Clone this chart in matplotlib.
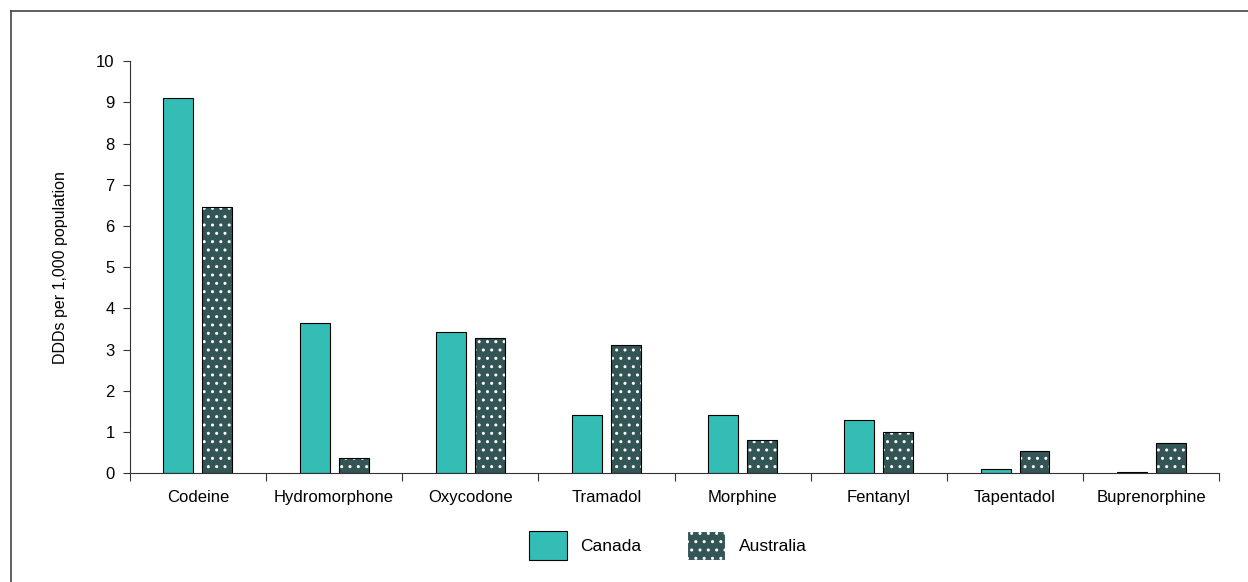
import matplotlib.pyplot as plt
import numpy as np
from matplotlib.patches import Patch
from matplotlib.lines import Line2D

plt.rcParams['font.family'] = ['Liberation Sans', 'DejaVu Sans']
plt.rcParams['hatch.linewidth'] = 1.0

drugs = ['Codeine', 'Hydromorphone', 'Oxycodone', 'Tramadol', 'Morphine',
         'Fentanyl', 'Tapentadol', 'Buprenorphine']
canada = [9.1, 3.65, 3.42, 1.4, 1.4, 1.3, 0.1, 0.04]
australia = [6.45, 0.37, 3.28, 3.12, 0.8, 1.0, 0.55, 0.72]

teal = '#33BDB5'
slate = '#335555'

fig = plt.figure(figsize=(12.48, 5.82), dpi=100)
ax = fig.add_axes([0.104, 0.187, 0.873, 0.708])

x = np.arange(len(drugs))
w = 0.22
off = 0.143
ax.bar(x - off, canada, w, color=teal, edgecolor='black', linewidth=0.8, zorder=2)
# dotted bars: white dot hatch first, then black outline on top
ax.bar(x + off, australia, w, color=slate, edgecolor='white', hatch='..',
       linewidth=0, zorder=2)
ax.bar(x + off, australia, w, color='none', edgecolor='black', linewidth=0.8, zorder=3)

ax.set_xlim(-0.5, len(drugs) - 0.5)
ax.set_ylim(0, 10)
ax.set_yticks(range(0, 11))
ax.set_xticks(np.arange(-0.5, len(drugs), 1.0))
ax.set_xticklabels([])
ax.set_xticks(x, minor=True)
ax.set_xticklabels(drugs, minor=True, fontsize=12)
ax.tick_params(axis='x', which='minor', length=0, pad=12)
ax.tick_params(axis='x', which='major', length=6, direction='out', color='#333333')
ax.tick_params(axis='y', length=5, labelsize=12, color='#333333', pad=6)
ax.spines['top'].set_visible(False)
ax.spines['right'].set_visible(False)
ax.spines['left'].set_color('#333333')
ax.spines['bottom'].set_color('#333333')
ax.set_ylabel('DDDs per 1,000 population', fontsize=11.5, labelpad=20)

handles = [Patch(facecolor=teal, edgecolor='black', linewidth=0.8, label='Canada'),
           Patch(facecolor=slate, edgecolor='white', hatch='..', linewidth=0.8,
                 label='Australia')]
fig.legend(handles=handles, loc='center', bbox_to_anchor=(0.535, 0.063), ncol=2,
           frameon=False, fontsize=12.5, handlelength=2.2, handleheight=2.2,
           columnspacing=2.6, handletextpad=0.8)

# frame around the figure (left and top edges visible)
fig.add_artist(Line2D([0.009, 0.009], [0.981, 0.0], color='#444444', linewidth=1.2))
fig.add_artist(Line2D([0.009, 1.0], [0.981, 0.981], color='#444444', linewidth=1.2))

fig.savefig('out.png', dpi=100)
